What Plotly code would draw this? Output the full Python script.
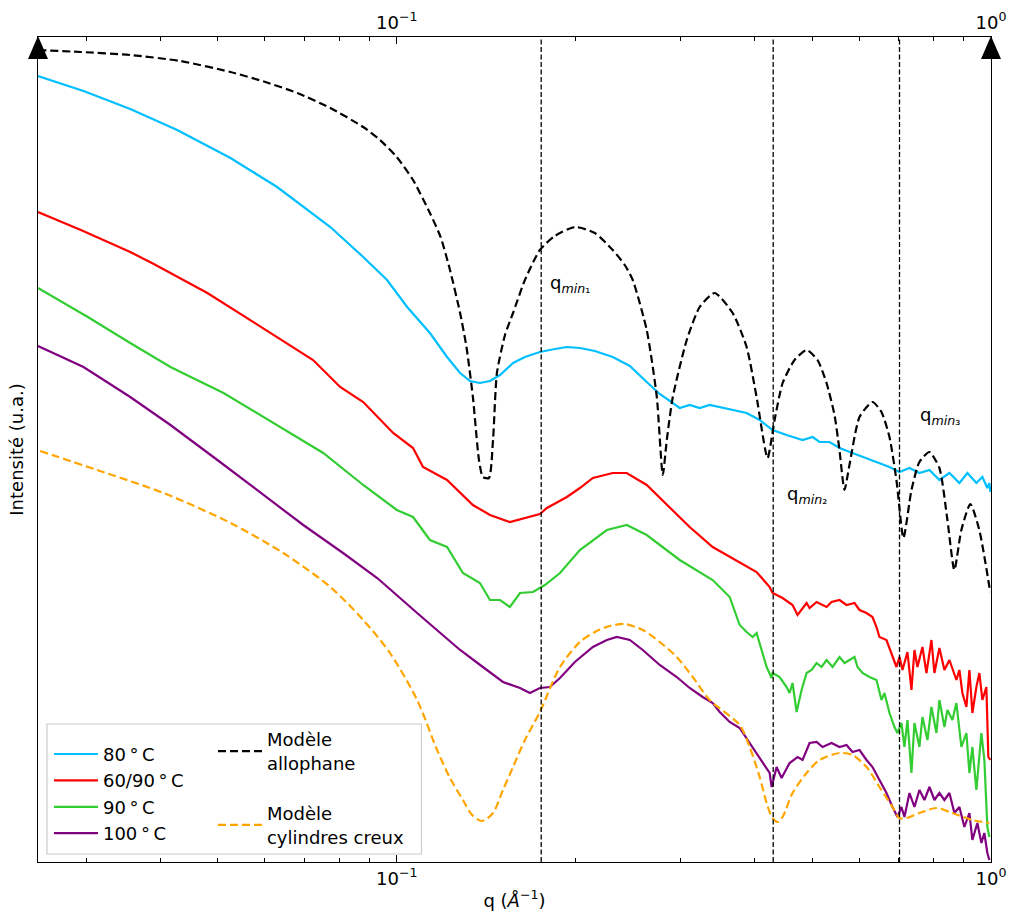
import numpy as np
import plotly.graph_objects as go

# ---------------- data ----------------
# q in Å^-1 ; intensity in arbitrary units (log-scaled picture, no ticks)
q_allo = [0.0249, 0.0294, 0.0356, 0.0432, 0.0525, 0.0601, 0.0680, 0.0773, 0.0878, 0.0937,
          0.100, 0.1065, 0.1137, 0.1185, 0.1229, 0.1278, 0.1310, 0.1343, 0.1375, 0.1396,
          0.1429, 0.1452, 0.1474, 0.1521, 0.1569, 0.1643, 0.1741, 0.1845, 0.1994, 0.2154,
          0.2309, 0.2419, 0.2495, 0.2634, 0.2739, 0.2803, 0.2847, 0.2914, 0.3076, 0.3234,
          0.3428, 0.3675, 0.3879, 0.4032, 0.4207, 0.4323, 0.4460, 0.4671, 0.4893, 0.5106,
          0.5287, 0.5453, 0.5559, 0.5668, 0.5778, 0.6008, 0.6317, 0.6541, 0.6747, 0.6932,
          0.7123, 0.7348, 0.7577, 0.7876, 0.8187, 0.8446, 0.8676, 0.8915, 0.9231, 0.9557,
          0.997]
I_allo = [812, 810, 807, 801, 790, 780, 769, 754, 735, 722,
          705, 682, 649, 625, 592, 549, 515, 465, 402, 385,
          384, 422, 489, 527, 549, 582, 612, 626, 635, 629,
          612, 597, 582, 532, 465, 387, 422, 465, 522, 555,
          569, 549, 515, 465, 404, 442, 479, 502, 512, 502,
          479, 447, 412, 372, 397, 445, 460, 450, 425, 382,
          324, 372, 400, 410, 394, 342, 292, 332, 358, 332,
          270]

q_80 = [0.0249, 0.0297, 0.0356, 0.0427, 0.0525, 0.0629, 0.0773, 0.0878, 0.0963, 0.1041,
        0.1137, 0.1215, 0.1278, 0.1328, 0.1380, 0.1435, 0.1492, 0.1569, 0.1643, 0.1741,
        0.1845, 0.1933, 0.2033, 0.2154, 0.2309, 0.2467, 0.2634, 0.2770, 0.2914, 0.2993,
        0.3111, 0.3234, 0.3362, 0.3495, 0.3675, 0.3879, 0.4080, 0.4290, 0.4529, 0.4818,
        0.5009, 0.5146, 0.5349, 0.5560, 0.5847, 0.6173, 0.6491, 0.6748, 0.7014, 0.7291,
        0.7578, 0.7878, 0.8188, 0.8512, 0.8848, 0.9126, 0.9449, 0.9671, 0.9860, 0.9937,
        0.9975]
I_80 = [786, 771, 753, 732, 704, 675, 635, 605, 582, 555,
        529, 505, 489, 481, 479, 481, 487, 499, 505, 510,
        513, 515, 514, 511, 505, 496, 480, 468, 459, 454,
        457, 454, 457, 455, 452, 449, 442, 432, 427, 422,
        425, 420, 420, 414, 409, 404, 399, 395, 390, 394,
        389, 392, 382, 389, 379, 389, 379, 385, 374, 379,
        370]

q_6090 = [0.0249, 0.0294, 0.0356, 0.0390, 0.0480, 0.0596, 0.0723, 0.0803, 0.0878, 0.0986,
          0.1065, 0.1107, 0.1215, 0.1343, 0.1435, 0.1550, 0.1643, 0.1741, 0.1789, 0.1933,
          0.2033, 0.2138, 0.2309, 0.2438, 0.2634, 0.2847, 0.3111, 0.3401, 0.3776, 0.4032,
          0.4241, 0.4290, 0.4459, 0.4635, 0.4726, 0.4894, 0.4951, 0.5087, 0.5288, 0.5391,
          0.5560, 0.5713, 0.5893, 0.6008, 0.6173, 0.6318, 0.6416, 0.6491, 0.6670, 0.6800,
          0.6933, 0.7014, 0.7096, 0.7234, 0.7347, 0.7433, 0.7520, 0.7667, 0.7787, 0.7939,
          0.8031, 0.8188, 0.8348, 0.8512, 0.8745, 0.8848, 0.8951, 0.9091, 0.9197, 0.9304,
          0.9449, 0.9560, 0.9671, 0.9822, 0.9898, 0.9975]
I_6090 = [650, 632, 610, 598, 569, 534, 502, 475, 460, 429,
          414, 395, 382, 357, 347, 340, 344, 348, 354, 365,
          374, 384, 389, 389, 377, 357, 335, 315, 300, 290,
          275, 269, 264, 257, 247, 259, 254, 260, 255, 260,
          262, 257, 259, 252, 249, 245, 235, 225, 222, 209,
          195, 205, 192, 210, 172, 212, 195, 215, 189, 222,
          189, 214, 192, 202, 182, 192, 169, 155, 192, 149,
          175, 189, 162, 175, 105, 102]

q_90 = [0.0249, 0.0302, 0.0356, 0.0416, 0.0511, 0.0629, 0.0752, 0.0878, 0.100, 0.1065,
        0.1137, 0.1215, 0.1292, 0.1380, 0.1435, 0.1492, 0.1550, 0.1612, 0.1695, 0.1775,
        0.1882, 0.2033, 0.2257, 0.2438, 0.2634, 0.2993, 0.3401, 0.3633, 0.3776, 0.3879,
        0.3971, 0.4032, 0.4111, 0.4192, 0.4274, 0.4290, 0.4408, 0.4529, 0.4582, 0.4635,
        0.4708, 0.4800, 0.4894, 0.4989, 0.5087, 0.5186, 0.5288, 0.5412, 0.5560, 0.5669,
        0.5780, 0.5893, 0.5961, 0.6078, 0.6245, 0.6416, 0.6542, 0.6618, 0.6748, 0.6879,
        0.6960, 0.7068, 0.7151, 0.7234, 0.7347, 0.7433, 0.7578, 0.7667, 0.7817, 0.7939,
        0.8094, 0.8188, 0.8348, 0.8446, 0.8611, 0.8745, 0.8916, 0.9091, 0.9197, 0.9304,
        0.9449, 0.9634, 0.9746, 0.9860, 0.9937]
I_90 = [574, 545, 519, 495, 469, 437, 409, 377, 352, 345,
        322, 315, 289, 279, 262, 262, 255, 269, 270, 277,
        289, 312, 332, 337, 327, 302, 282, 265, 237, 230,
        225, 229, 212, 195, 184, 189, 185, 175, 169, 179,
        150, 172, 189, 192, 199, 195, 202, 195, 205, 199,
        202, 205, 195, 189, 185, 182, 162, 169, 149, 135,
        129, 139, 115, 142, 89, 139, 115, 145, 122, 155,
        129, 162, 135, 152, 142, 159, 115, 129, 89, 115,
        72, 129, 102, 35, 25]

q_100 = [0.0249, 0.0297, 0.0356, 0.0416, 0.0499, 0.0596, 0.0696, 0.0812, 0.0927, 0.1082,
         0.1278, 0.1396, 0.1509, 0.1612, 0.1675, 0.1741, 0.1810, 0.1882, 0.1994, 0.2138,
         0.2257, 0.2346, 0.2467, 0.2594, 0.2770, 0.2959, 0.3111, 0.3272, 0.3401, 0.3495,
         0.3633, 0.3776, 0.3925, 0.4080, 0.4241, 0.4274, 0.4357, 0.4442, 0.4582, 0.4726,
         0.4818, 0.4951, 0.5087, 0.5206, 0.5391, 0.5560, 0.5713, 0.5847, 0.6008, 0.6173,
         0.6318, 0.6491, 0.6670, 0.6826, 0.6960, 0.7068, 0.7151, 0.7291, 0.7433, 0.7578,
         0.7727, 0.7878, 0.8031, 0.8188, 0.8348, 0.8512, 0.8678, 0.8848, 0.9020, 0.9197,
         0.9304, 0.9486, 0.9634, 0.9746, 0.9860, 0.9937]
I_100 = [516, 495, 465, 437, 402, 367, 337, 309, 284, 249,
         212, 195, 180, 174, 169, 174, 175, 184, 200, 215,
         222, 225, 222, 212, 197, 185, 174, 165, 159, 150,
         140, 134, 119, 105, 89, 75, 95, 84, 99, 105,
         102, 119, 120, 115, 119, 115, 117, 110, 112, 102,
         95, 82, 69, 55, 45, 55, 45, 69, 55, 72,
         62, 75, 62, 69, 62, 69, 49, 55, 35, 49,
         22, 39, 19, 29, 9, 2]

q_cyl = [0.0251, 0.0313, 0.0405, 0.0525, 0.0644, 0.0773, 0.0878, 0.0974, 0.1082, 0.1169,
         0.1229, 0.1292, 0.1339, 0.1391, 0.1452, 0.1509, 0.1569, 0.1643, 0.1741, 0.1882,
         0.2033, 0.2154, 0.2283, 0.2419, 0.2594, 0.2770, 0.2959, 0.3148, 0.3362, 0.3776,
         0.3925, 0.4080, 0.4211, 0.4290, 0.4373, 0.4459, 0.4635, 0.4894, 0.5146, 0.5560,
         0.5847, 0.6173, 0.6491, 0.6826, 0.7014, 0.7205, 0.7578, 0.8094, 0.8611, 0.9304,
         0.9937]
I_cyl = [411, 392, 369, 339, 309, 275, 242, 209, 162, 112,
         84, 62, 47, 41, 49, 72, 95, 122, 150, 195,
         220, 230, 236, 238, 232, 220, 205, 185, 162, 137,
         115, 85, 55, 44, 40, 45, 69, 89, 102, 109,
         107, 95, 75, 55, 44, 44, 49, 54, 49, 42,
         39]

q_min_positions = [0.175, 0.430, 0.7015]
q_min_labels = ["q<sub><i>min</i>\u2081</sub>", "q<sub><i>min</i>\u2082</sub>", "q<sub><i>min</i>\u2083</sub>"]
q_min_label_pos = [(0.1797, 578), (0.4494, 367), (0.7542, 446)]

x_tick_vals = [0.1, 1.0]
x_tick_text = ["10<sup>\u22121</sup>", "10<sup>0</sup>"]
x_minor_vals = [0.03, 0.04, 0.05, 0.06, 0.07, 0.08, 0.09, 0.2, 0.3, 0.4, 0.5, 0.6, 0.7, 0.8, 0.9]

X_RANGE = [np.log10(0.0249), 0.0]
Y_RANGE = [0, 825]
FONT = "DejaVu Sans"
FS = 18

fig = go.Figure()

series = [
    ("80\u2009°\u2009C", q_80, I_80, "#00BFFF"),
    ("60/90\u2009°\u2009C", q_6090, I_6090, "#FF0000"),
    ("90\u2009°\u2009C", q_90, I_90, "#32CD32"),
    ("100\u2009°\u2009C", q_100, I_100, "#800080"),
]
for name, qq, ii, col in series:
    fig.add_trace(go.Scatter(x=qq, y=ii, mode="lines", name=name,
                             line=dict(color=col, width=2.2), legend="legend"))

fig.add_trace(go.Scatter(x=q_allo, y=I_allo, mode="lines", name="Modèle<br>allophane",
                         line=dict(color="black", width=2.2, dash="8px,4px", shape="spline", smoothing=0.6),
                         legend="legend2", legendgroup="a"))
fig.add_trace(go.Scatter(x=q_cyl, y=I_cyl, mode="lines", name="Modèle<br>cylindres creux",
                         line=dict(color="#FFA500", width=2.2, dash="8px,4px", shape="spline", smoothing=0.8),
                         legend="legend2", legendgroup="b"))

for qm in q_min_positions:
    fig.add_trace(go.Scatter(x=[qm, qm], y=Y_RANGE, mode="lines", showlegend=False,
                             hoverinfo="skip", line=dict(color="black", width=1.3, dash="5px,2.5px")))

# invisible trace to carry the top axis
fig.add_trace(go.Scatter(x=x_tick_vals, y=[None, None], xaxis="x2", showlegend=False,
                         hoverinfo="skip", mode="lines"))

for txt, (qx, iy) in zip(q_min_labels, q_min_label_pos):
    fig.add_annotation(x=np.log10(qx), y=iy, xref="x", yref="y", text=txt, showarrow=False,
                       xanchor="left", yanchor="middle", font=dict(family=FONT, size=FS, color="black"))

axis_common = dict(type="log", range=X_RANGE, showgrid=False, zeroline=False,
                   tickmode="array", tickvals=x_tick_vals, ticktext=x_tick_text,
                   ticks="inside", ticklen=7, tickwidth=1.2, tickcolor="black",
                   minor=dict(ticks="inside", ticklen=4, tickwidth=1, tickcolor="black",
                              tickmode="array", tickvals=x_minor_vals),
                   showline=True, linecolor="black", linewidth=1.3,
                   tickfont=dict(family=FONT, size=FS, color="black"))

# full-window figure; the page margin is removed below
fig.update_layout(
    width=1010, height=917,
    margin=dict(l=38, r=19, t=37, b=55, autoexpand=False),
    paper_bgcolor="white", plot_bgcolor="white",
    font=dict(family=FONT, size=FS, color="black"),
    xaxis=dict(**axis_common, mirror=False,
               title=dict(text="q (<i>Å</i><sup>\u22121</sup>)", standoff=6,
                          font=dict(family=FONT, size=FS))),
    xaxis2=dict(**axis_common, overlaying="x", side="top", matches="x"),
    yaxis=dict(range=Y_RANGE, showticklabels=False, ticks="", showgrid=False, zeroline=False,
               showline=True, linecolor="black", linewidth=1.3, mirror=True,
               title=dict(text="Intensité (u.a.)", standoff=8, font=dict(family=FONT, size=FS))),
    legend=dict(x=0.0115, y=0.153, xanchor="left", yanchor="top", bgcolor="rgba(0,0,0,0)",
                borderwidth=0, font=dict(family=FONT, size=FS, color="black"),
                tracegroupgap=0, itemwidth=44),
    legend2=dict(x=0.1836, y=0.1706, xanchor="left", yanchor="top", bgcolor="rgba(0,0,0,0)",
                 borderwidth=0, font=dict(family=FONT, size=FS, color="black"),
                 traceorder="grouped", tracegroupgap=24, itemwidth=44),
    showlegend=True,
)

# legend frame
fig.add_shape(type="rect", xref="paper", yref="paper", x0=0.0094, x1=0.4024, y0=0.0097, y1=0.1673,
              line=dict(color="#cccccc", width=1.2), fillcolor="rgba(255,255,255,0.85)", layer="above")
# arrow heads on top of the left and right spines
for xa in (0, 1):
    fig.add_shape(type="path", xref="paper", yref="paper", xsizemode="pixel", ysizemode="pixel",
                  xanchor=xa, yanchor=1, path="M -10,-22 L 10,-22 L 0,1 Z",
                  fillcolor="black", line=dict(width=0), layer="above")

fig.write_html("out.html",
               config={"displayModeBar": False},
               post_script="document.body.style.margin='0';"
                           "document.body.style.padding='0';"
                           "document.documentElement.style.overflow='hidden';")
